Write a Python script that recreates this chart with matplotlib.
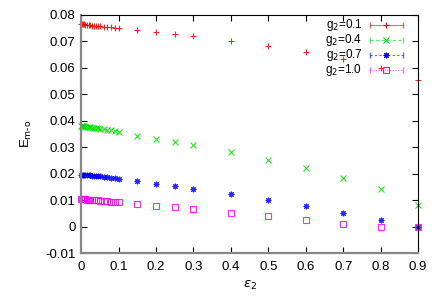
import matplotlib
matplotlib.use('Agg')
import matplotlib.pyplot as plt

# eps_2 values
eps2 = [0, 0.0025, 0.005, 0.0075, 0.01, 0.015, 0.02, 0.025, 0.03, 0.035, 0.04,
        0.045, 0.05, 0.06, 0.07, 0.08, 0.09, 0.1,
        0.15, 0.2, 0.25, 0.3, 0.4, 0.5, 0.6, 0.7, 0.8, 0.9]

E_g01 = [0.0765, 0.0765, 0.0764, 0.0764, 0.0763, 0.0762, 0.0762, 0.0761, 0.0760, 0.0760, 0.0759,
         0.0758, 0.0758, 0.0756, 0.0755, 0.0754, 0.0752, 0.0751,
         0.0742, 0.0735, 0.0727, 0.0720, 0.0701, 0.0682, 0.0659, 0.0634, 0.0601, 0.0556]
E_g04 = [0.0380, 0.0380, 0.0379, 0.0379, 0.0378, 0.0377, 0.0376, 0.0375, 0.0374, 0.0373, 0.0372,
         0.0371, 0.0370, 0.0368, 0.0366, 0.0364, 0.0361, 0.0357,
         0.0344, 0.0333, 0.0321, 0.0309, 0.0284, 0.0253, 0.0221, 0.0185, 0.0141, 0.0081]
E_g07 = [0.0197, 0.0197, 0.0197, 0.0196, 0.0196, 0.0195, 0.0194, 0.0194, 0.0193, 0.0192, 0.0191,
         0.0191, 0.0190, 0.0188, 0.0187, 0.0185, 0.0183, 0.0181,
         0.0171, 0.0162, 0.0153, 0.0143, 0.0123, 0.0101, 0.0078, 0.0053, 0.0025, 0.0000]
E_g10 = [0.0104, 0.0104, 0.0103, 0.0103, 0.0103, 0.0102, 0.0102, 0.0101, 0.0101, 0.0100, 0.0099,
         0.0099, 0.0098, 0.0097, 0.0096, 0.0095, 0.0094, 0.0093,
         0.0086, 0.0078, 0.0073, 0.0065, 0.0053, 0.0039, 0.0025, 0.0011, 0.0000, 0.0000]

labels = ['g$_2$=0.1', 'g$_2$=0.4', 'g$_2$=0.7', 'g$_2$=1.0']
series = [E_g01, E_g04, E_g07, E_g10]
colors = ['#ff0000', '#00dd00', '#0000ff', '#ff00ff']
markers = ['+', 'x', (8, 2, 0), 's']
styles = ['-', (0, (3, 2)), (0, (2, 2)), (0, (1, 1.5))]

xticks = [0, 0.1, 0.2, 0.3, 0.4, 0.5, 0.6, 0.7, 0.8, 0.9]
xticklabels = ['0', '0.1', '0.2', '0.3', '0.4', '0.5', '0.6', '0.7', '0.8', '0.9']
yticks = [-0.01, 0, 0.01, 0.02, 0.03, 0.04, 0.05, 0.06, 0.07, 0.08]
yticklabels = ['-0.01', '0', '0.01', '0.02', '0.03', '0.04', '0.05', '0.06', '0.07', '0.08']

plt.rcParams['font.family'] = ['Liberation Sans', 'DejaVu Sans']
plt.rcParams['font.size'] = 9.5

fig = plt.figure(figsize=(4.36, 3.05), dpi=100)
ax = fig.add_axes([0.186, 0.170, 0.773, 0.781])

for y, c, m in zip(series, colors, markers):
    ax.plot(eps2, y, linestyle='none', marker=m, color=c, markersize=4,
            markeredgewidth=0.8, markerfacecolor='none', alpha=0.85, clip_on=False)

ax.set_xlim(0, 0.9)
ax.set_ylim(-0.01, 0.08)
ax.set_xticks(xticks)
ax.set_xticklabels(xticklabels)
ax.set_yticks(yticks)
ax.set_yticklabels(yticklabels)
ax.tick_params(direction='in', top=True, right=True, length=4, width=0.8, pad=6)
ax.tick_params(axis='y', pad=4)

for side in ['top', 'right']:
    ax.spines[side].set_linewidth(0.8)
for side in ['left', 'bottom']:
    ax.spines[side].set_color('#888888')
    ax.spines[side].set_linewidth(1.6)

ax.set_xlabel('$\\varepsilon_2$', labelpad=4)
ax.set_ylabel('E$_{\\rm m\\text{-}o}$', labelpad=8)

# gnuplot style key, top right
for i, (lab, c, m, ls) in enumerate(zip(labels, colors, markers, styles)):
    yk = 0.958 - i * 0.063
    ax.text(0.835, yk, lab, transform=ax.transAxes, ha='right', va='center', fontsize=8.5)
    ax.plot([0.858, 0.955], [yk, yk], transform=ax.transAxes, color=c, linestyle=ls,
            linewidth=0.8, alpha=0.6, clip_on=False)
    ax.plot([0.858, 0.955], [yk, yk], transform=ax.transAxes, color=c, linestyle='none',
            marker='|', markersize=4, alpha=0.6, clip_on=False)
    ax.plot([0.906], [yk], transform=ax.transAxes, color=c, marker=m, markersize=4,
            markerfacecolor='none', markeredgewidth=0.8, clip_on=False)

fig.savefig('out.png', dpi=100)
